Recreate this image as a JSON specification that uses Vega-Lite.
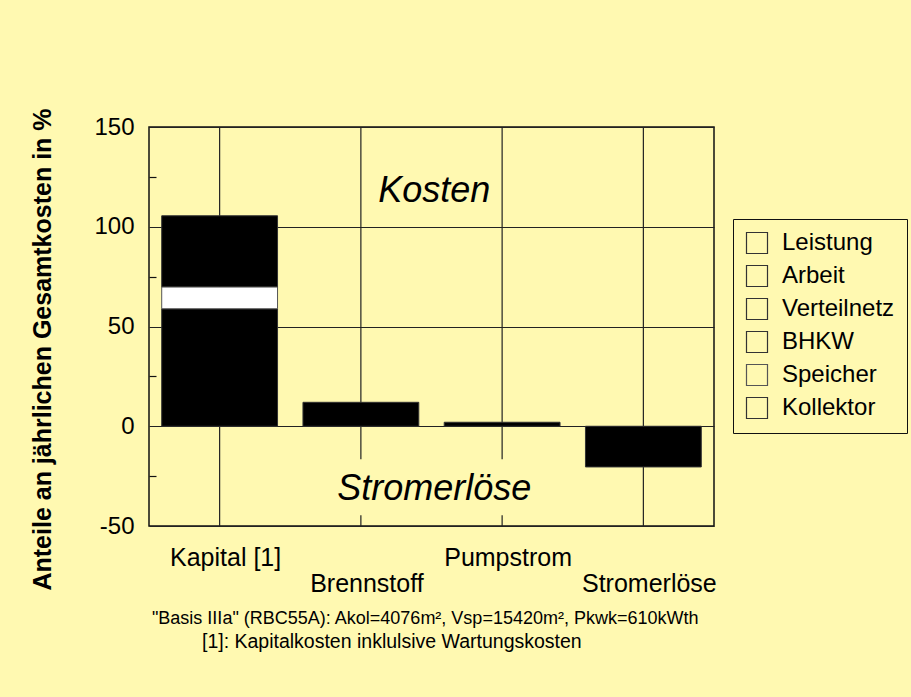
{
  "$schema": "https://vega.github.io/schema/vega-lite/v6.json",
  "width": 565,
  "height": 399,
  "autosize": {"type": "none"},
  "padding": {"left": 149, "top": 127, "right": 197, "bottom": 171},
  "background": "#FFF9B1",
  "config": {
    "font": "Liberation Sans",
    "view": {"stroke": "#111111", "strokeWidth": 1.5},
    "axis": {"labelColor": "black", "titleColor": "black"},
    "text": {"color": "black"}
  },
  "datasets": {
    "balken": [
      {"Kategorie": "Kapital [1]", "Komponente": "Kollektor", "Stapel": 1, "Wert": 58.9},
      {"Kategorie": "Kapital [1]", "Komponente": "Speicher", "Stapel": 2, "Wert": 11.0},
      {"Kategorie": "Kapital [1]", "Komponente": "Verteilnetz", "Stapel": 3, "Wert": 35.6},
      {"Kategorie": "Brennstoff", "Komponente": "Arbeit", "Stapel": 1, "Wert": 12.0},
      {"Kategorie": "Pumpstrom", "Komponente": "Arbeit", "Stapel": 1, "Wert": 2.0},
      {"Kategorie": "Stromerlöse", "Komponente": "Leistung", "Stapel": 1, "Wert": -20.4}
    ],
    "gitter": [
      {"Kategorie": "Kapital [1]", "von": -50, "bis": 150},
      {"Kategorie": "Brennstoff", "von": -16.6, "bis": 150},
      {"Kategorie": "Brennstoff", "von": -50, "bis": -44.6},
      {"Kategorie": "Pumpstrom", "von": -16.6, "bis": 150},
      {"Kategorie": "Pumpstrom", "von": -50, "bis": -44.6},
      {"Kategorie": "Stromerlöse", "von": -50, "bis": 150}
    ],
    "beschriftung": [
      {"Text": "Kosten", "px": 2.02, "py": 112.4},
      {"Text": "Stromerlöse", "px": 2.02, "py": -36.75}
    ],
    "fussnote1": [
      {"Text": "\"Basis IIIa\" (RBC55A): Akol=4076m², Vsp=15420m², Pkwk=610kWth", "px": 0.021, "py": -99}
    ],
    "fussnote2": [
      {"Text": "[1]: Kapitalkosten inklulsive Wartungskosten", "px": 0.375, "py": -111}
    ]
  },
  "resolve": {"scale": {"x": "independent"}, "axis": {"y": "independent"}},
  "layer": [
    {
      "data": {"name": "gitter"},
      "mark": {"type": "rule", "color": "#222222", "strokeWidth": 1.2},
      "encoding": {
        "x": {"field": "Kategorie", "type": "nominal", "sort": ["Kapital [1]", "Brennstoff", "Pumpstrom", "Stromerlöse"], "scale": {"type": "point", "padding": 0.5}, "axis": null},
        "y": {"field": "von", "type": "quantitative", "scale": {"domain": [-50, 150], "nice": false},
          "axis": {"orient": "right", "offset": -565, "values": [-25, 25, 75, 125], "labels": false, "domain": false, "grid": false, "ticks": true, "tickSize": 7, "tickColor": "#111111", "tickWidth": 1.2, "title": null}},
        "y2": {"field": "bis"}
      }
    },
    {
      "data": {"name": "balken"},
      "mark": {"type": "bar", "strokeWidth": 1},
      "encoding": {
        "x": {"field": "Kategorie", "type": "nominal", "sort": ["Kapital [1]", "Brennstoff", "Pumpstrom", "Stromerlöse"],
          "scale": {"paddingInner": 0.18, "paddingOuter": 0.09},
          "axis": {"title": null, "labelAngle": 0, "labelFontSize": 25, "domain": false, "ticks": false, "grid": false, "labelOverlap": false, "labelBound": false, "labelOffset": 6,
            "labelPadding": {"condition": {"test": "datum.value === 'Brennstoff' || datum.value === 'Stromerlöse'", "value": 45}, "value": 19}}},
        "y": {"field": "Wert", "type": "quantitative", "stack": "zero", "scale": {"domain": [-50, 150], "nice": false},
          "axis": {"values": [-50, 0, 50, 100, 150], "labelExpr": "'' + datum.value", "grid": true, "gridColor": "#222222", "gridWidth": 1.2, "ticks": false, "domain": false, "labelFontSize": 24, "labelPadding": 15,
            "title": "Anteile an jährlichen Gesamtkosten in %", "titleFontSize": 25, "titleFontWeight": "bold", "titleX": -94, "titleY": 222}},
        "order": {"field": "Stapel", "type": "quantitative"},
        "fill": {"field": "Komponente", "type": "nominal",
          "scale": {"range": ["#000000", "#000000", "#000000", "#FFFFFF", "#000000"]},
          "legend": null},
        "stroke": {"field": "Komponente", "type": "nominal",
          "scale": {"domain": ["Leistung", "Arbeit", "Verteilnetz", "BHKW", "Speicher", "Kollektor"], "range": ["#333333", "#333333", "#333333", "#333333", "#555555", "#333333"]},
          "legend": {"orient": "none", "legendX": 584, "legendY": 92, "title": null, "symbolType": "square", "symbolSize": 441, "symbolFillColor": "transparent", "symbolStrokeWidth": 1.2,
            "labelFontSize": 24, "labelColor": "black", "labelOffset": 13, "rowPadding": 7, "padding": 12, "strokeColor": "#111111", "fillColor": "#FFF9B1", "labelLimit": 0}}
      }
    },
    {
      "data": {"name": "beschriftung"},
      "mark": {"type": "text", "fontSize": 36, "fontStyle": "italic", "align": "center", "baseline": "alphabetic"},
      "encoding": {
        "x": {"field": "px", "type": "quantitative", "scale": {"domain": [0, 4], "nice": false, "zero": false}, "axis": null},
        "y": {"field": "py", "type": "quantitative", "scale": {"domain": [-50, 150], "nice": false}, "axis": null},
        "text": {"field": "Text"}
      }
    },
    {
      "data": {"name": "fussnote1"},
      "mark": {"type": "text", "fontSize": 18, "align": "left", "baseline": "alphabetic"},
      "encoding": {
        "x": {"field": "px", "type": "quantitative", "scale": {"domain": [0, 4], "nice": false, "zero": false}, "axis": null},
        "y": {"field": "py", "type": "quantitative", "scale": {"domain": [-50, 150], "nice": false}, "axis": null},
        "text": {"field": "Text"}
      }
    },
    {
      "data": {"name": "fussnote2"},
      "mark": {"type": "text", "fontSize": 19.5, "align": "left", "baseline": "alphabetic"},
      "encoding": {
        "x": {"field": "px", "type": "quantitative", "scale": {"domain": [0, 4], "nice": false, "zero": false}, "axis": null},
        "y": {"field": "py", "type": "quantitative", "scale": {"domain": [-50, 150], "nice": false}, "axis": null},
        "text": {"field": "Text"}
      }
    }
  ]
}
